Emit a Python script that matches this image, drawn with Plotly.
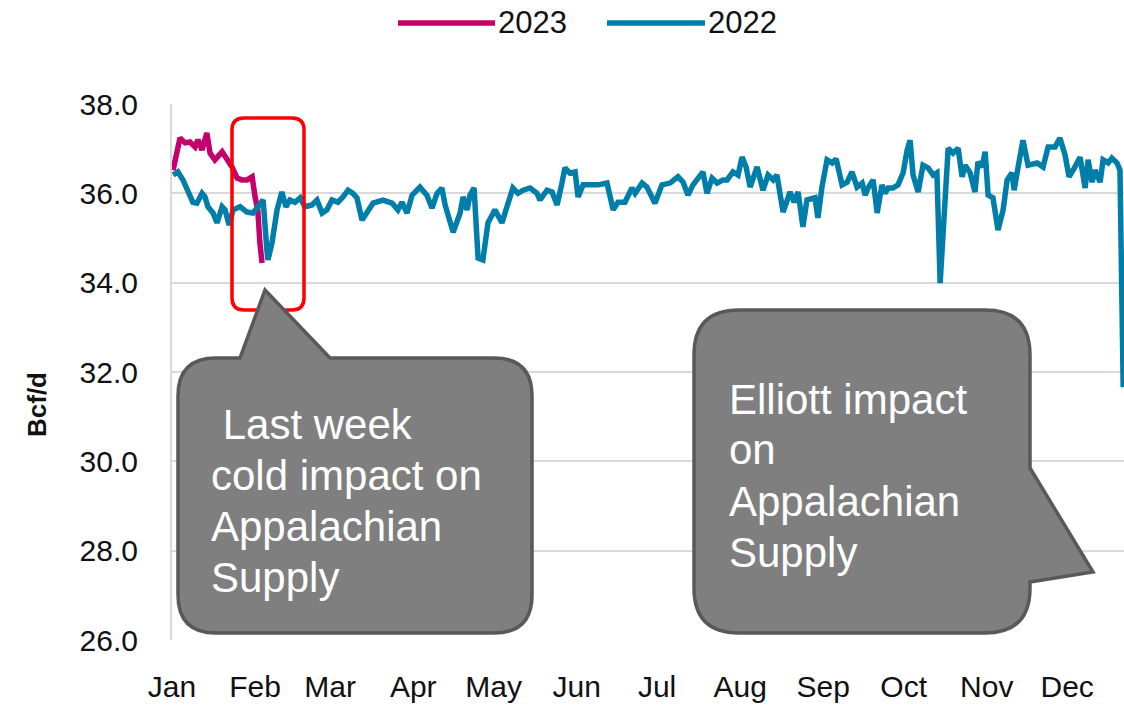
import pandas as pd
import plotly.graph_objects as go

# day-of-year offsets (from Jan 1) and production, Bcf/d
days_2023 = [0.4, 3.0, 4.9, 6.7, 8.6, 9.7, 11.2, 13.0, 14.2, 16.0, 18.7, 20.5,
             22.4, 24.3, 26.1, 28.0, 29.9, 31.0, 32.0, 32.8, 33.6]
vals_2023 = [36.52, 37.24, 37.13, 37.15, 37.04, 37.20, 36.97, 37.35, 36.90, 36.75,
             36.93, 36.75, 36.59, 36.34, 36.30, 36.30, 36.37, 35.92, 35.63, 34.89, 34.44]

days_2022 = [0.4, 2.2, 4.1, 6.0, 7.8, 9.3, 11.2, 12.3, 13.4, 15.3, 16.8, 18.7, 19.8,
             21.3, 22.8, 25.4, 28.0, 30.2, 32.1, 34.0, 35.4, 35.8, 37.3, 39.2, 41.0,
             42.5, 44.0, 45.9, 47.8, 49.6, 52.2, 54.1, 56.0, 57.8, 59.7, 61.9, 63.8,
             65.7, 67.5, 69.0, 70.9, 72.8, 75.0, 78.7, 82.1, 84.3, 85.8, 87.7, 89.6,
             92.5, 95.1, 97.0, 98.9, 100.7, 101.9, 104.9, 107.5, 108.6, 110.1, 111.2,
             112.7, 114.2, 116.0, 117.9, 120.5, 123.1, 125.0, 127.2, 129.1, 131.0,
             133.6, 136.2, 137.3, 139.9, 141.8, 143.7, 145.5, 146.6, 148.5, 150.4,
             151.5, 153.4, 156.0, 159.0, 162.3, 163.4, 164.6, 166.4, 169.0, 171.6,
             172.8, 175.4, 177.2, 180.2, 182.8, 185.8, 188.8, 190.7, 192.5, 194.4,
             196.3, 198.1, 199.6, 201.5, 203.4, 205.6, 207.1, 209.3, 211.2, 212.7,
             214.2, 215.7, 218.3, 220.5, 222.4, 224.3, 225.7, 228.0, 230.6, 232.1,
             233.6, 235.4, 236.9, 239.9, 241.0, 242.5, 244.4, 246.3, 247.8, 250.0,
             251.9, 253.7, 255.6, 257.5, 258.6, 259.7, 261.6, 263.1, 264.9, 266.0,
             267.2, 269.0, 270.9, 272.8, 274.3, 275.4, 276.5, 278.4, 280.2, 282.1,
             284.0, 285.4, 286.6, 288.1, 289.6, 291.4, 293.3, 294.8, 295.9, 297.8,
             299.6, 300.7, 302.2, 303.4, 304.5, 306.3, 308.2, 310.1, 311.6, 313.4,
             314.2, 315.7, 317.5, 319.4, 322.8, 325.0, 326.9, 329.5, 331.3, 333.2,
             334.7, 336.9, 338.8, 340.7, 341.8, 343.3, 344.4, 346.3, 347.4, 349.3,
             350.7, 352.6, 353.7, 354.9]
vals_2022 = [36.41, 36.48, 36.30, 36.07, 35.80, 35.78, 36.00, 35.92, 35.70, 35.56,
             35.34, 35.70, 35.63, 35.29, 35.63, 35.70, 35.58, 35.56, 35.70, 35.85,
             34.73, 34.51, 34.89, 35.63, 36.03, 35.70, 35.85, 35.80, 35.90, 35.70,
             35.74, 35.85, 35.56, 35.63, 35.85, 35.80, 35.92, 36.07, 36.00, 35.90,
             35.40, 35.58, 35.78, 35.85, 35.78, 35.63, 35.80, 35.56, 35.96, 36.14,
             35.96, 35.67, 36.00, 36.12, 35.74, 35.13, 35.56, 35.92, 35.63, 35.96,
             36.12, 34.55, 34.51, 35.34, 35.63, 35.34, 35.70, 36.12, 36.00, 36.07,
             36.12, 36.00, 35.85, 36.07, 36.03, 35.74, 36.23, 36.57, 36.45, 36.48,
             35.92, 36.19, 36.19, 36.19, 36.23, 35.90, 35.63, 35.80, 35.80, 36.12,
             36.00, 36.23, 36.14, 35.78, 36.19, 36.23, 36.37, 36.25, 35.96, 36.19,
             36.34, 36.48, 36.00, 36.34, 36.23, 36.30, 36.30, 36.48, 36.41, 36.81,
             36.59, 36.14, 36.59, 36.07, 36.41, 36.30, 36.41, 35.58, 36.03, 35.80,
             36.03, 35.25, 35.85, 35.90, 35.45, 36.14, 36.75, 36.68, 36.77, 36.19,
             36.25, 36.48, 36.14, 36.23, 35.96, 36.12, 36.30, 35.56, 36.19, 36.00,
             36.12, 36.12, 36.19, 36.46, 36.97, 37.19, 36.41, 36.03, 36.63, 36.57,
             36.41, 36.46, 33.99, 35.78, 37.01, 36.90, 37.01, 36.37, 36.63, 36.46,
             36.03, 36.70, 36.59, 36.93, 35.96, 35.90, 35.18, 35.63, 36.30, 36.46,
             36.07, 36.59, 37.19, 36.63, 36.68, 36.59, 37.04, 37.04, 37.24, 36.86,
             36.37, 36.59, 36.81, 36.12, 36.75, 36.25, 36.52, 36.25, 36.75, 36.68,
             36.79, 36.68, 36.52, 31.66]

y_ticks = [26, 28, 30, 32, 34, 36, 38]

callout_cold = [" Last week", "cold impact on", "Appalachian", "Supply"]
callout_elliott = ["Elliott impact", "on", "Appalachian", "Supply"]

start = pd.Timestamp("2022-01-01")
x_2023 = start + pd.to_timedelta(days_2023, unit="D")
x_2022 = start + pd.to_timedelta(days_2022, unit="D")

FONT = "Liberation Sans, Arial, sans-serif"
C2023 = "#c4006c"
C2022 = "#007eaa"


# plot area in page pixels: left 172, right 1124, top 104, bottom 640
def pt(x, y):
    return f"{(x - 172) / 952:.5f},{(640 - y) / 536:.5f}"


def px_x(x):
    return (x - 172) / 952


def px_y(y):
    return (640 - y) / 536


def rounded_box(L, T, R, B, r, pointer_top=None, pointer_right=None):
    p = f"M{pt(L + r, T)}"
    if pointer_top:
        for (x, y) in pointer_top:
            p += f" L{pt(x, y)}"
    p += f" L{pt(R - r, T)} Q{pt(R, T)} {pt(R, T + r)}"
    if pointer_right:
        for (x, y) in pointer_right:
            p += f" L{pt(x, y)}"
    p += f" L{pt(R, B - r)} Q{pt(R, B)} {pt(R - r, B)}"
    p += f" L{pt(L + r, B)} Q{pt(L, B)} {pt(L, B - r)}"
    p += f" L{pt(L, T + r)} Q{pt(L, T)} {pt(L + r, T)} Z"
    return p


fig = go.Figure()
fig.add_trace(go.Scatter(x=x_2023, y=vals_2023, name="2023", mode="lines",
                         line=dict(color=C2023, width=5.5), showlegend=False))
fig.add_trace(go.Scatter(x=x_2022, y=vals_2022, name="2022", mode="lines",
                         line=dict(color=C2022, width=5.5), showlegend=False))

shapes = []
# red highlight box
shapes.append(dict(type="path", xref="paper", yref="paper",
                   path=rounded_box(232, 118, 304, 310, 12),
                   line=dict(color="#ff0000", width=3.5)))
# callouts
shapes.append(dict(type="path", xref="paper", yref="paper",
                   path=rounded_box(178, 358, 532, 633, 38,
                                    pointer_top=[(240, 358), (265, 290), (330, 358)]),
                   fillcolor="#7f7f7f", line=dict(color="#595959", width=3.5)))
shapes.append(dict(type="path", xref="paper", yref="paper",
                   path=rounded_box(694, 310, 1030, 633, 45,
                                    pointer_right=[(1030, 468), (1093, 572), (1030, 582)]),
                   fillcolor="#7f7f7f", line=dict(color="#595959", width=3.5)))
# legend lines
for x0, x1, c in [(398, 495, C2023), (607, 705, C2022)]:
    shapes.append(dict(type="line", xref="paper", yref="paper",
                       x0=px_x(x0), x1=px_x(x1), y0=px_y(23), y1=px_y(23),
                       line=dict(color=c, width=5.5)))

annotations = [
    dict(text="2023", x=px_x(496), y=px_y(23), xanchor="left", yanchor="middle"),
    dict(text="2022", x=px_x(706), y=px_y(23), xanchor="left", yanchor="middle"),
    dict(text="<b>Bcf/d</b>", x=px_x(37), y=px_y(405), textangle=-90,
         xanchor="center", yanchor="middle", font=dict(size=26, color="#111")),
]
for i, line in enumerate(callout_cold):
    annotations.append(dict(text=line, x=px_x(209), y=px_y(424 + 51 * i),
                            xanchor="left", yanchor="middle",
                            font=dict(size=42, color="white")))
for i, line in enumerate(callout_elliott):
    annotations.append(dict(text=line, x=px_x(727), y=px_y(399 + 51 * i),
                            xanchor="left", yanchor="middle",
                            font=dict(size=42, color="white")))
for a in annotations:
    a.setdefault("xref", "paper")
    a.setdefault("yref", "paper")
    a.setdefault("showarrow", False)
    a.setdefault("font", dict(size=31, color="#111"))

fig.update_layout(
    width=1124, height=710,
    margin=dict(l=172, r=0, t=104, b=70),
    paper_bgcolor="white", plot_bgcolor="white",
    font=dict(family=FONT, size=30, color="#111"),
    shapes=shapes, annotations=annotations,
    showlegend=False,
)
fig.update_xaxes(
    range=[start, start + pd.Timedelta(days=355.2)],
    dtick="M1", tickformat="%b", tick0="2022-01-01",
    showgrid=False, showline=False, zeroline=False,
    ticks="", ticklabelstandoff=26,
)
fig.update_yaxes(
    range=[26, 38], tickvals=y_ticks, tickformat=".1f",
    showgrid=True, gridcolor="#d9d9d9", gridwidth=2,
    showline=True, linecolor="#d9d9d9", linewidth=2,
    zeroline=False, ticks="", ticklabelstandoff=26,
)

fig.write_html(
    "out.html",
    config={"displayModeBar": False},
    post_script="document.body.style.margin='0';document.body.style.overflow='hidden';",
)
